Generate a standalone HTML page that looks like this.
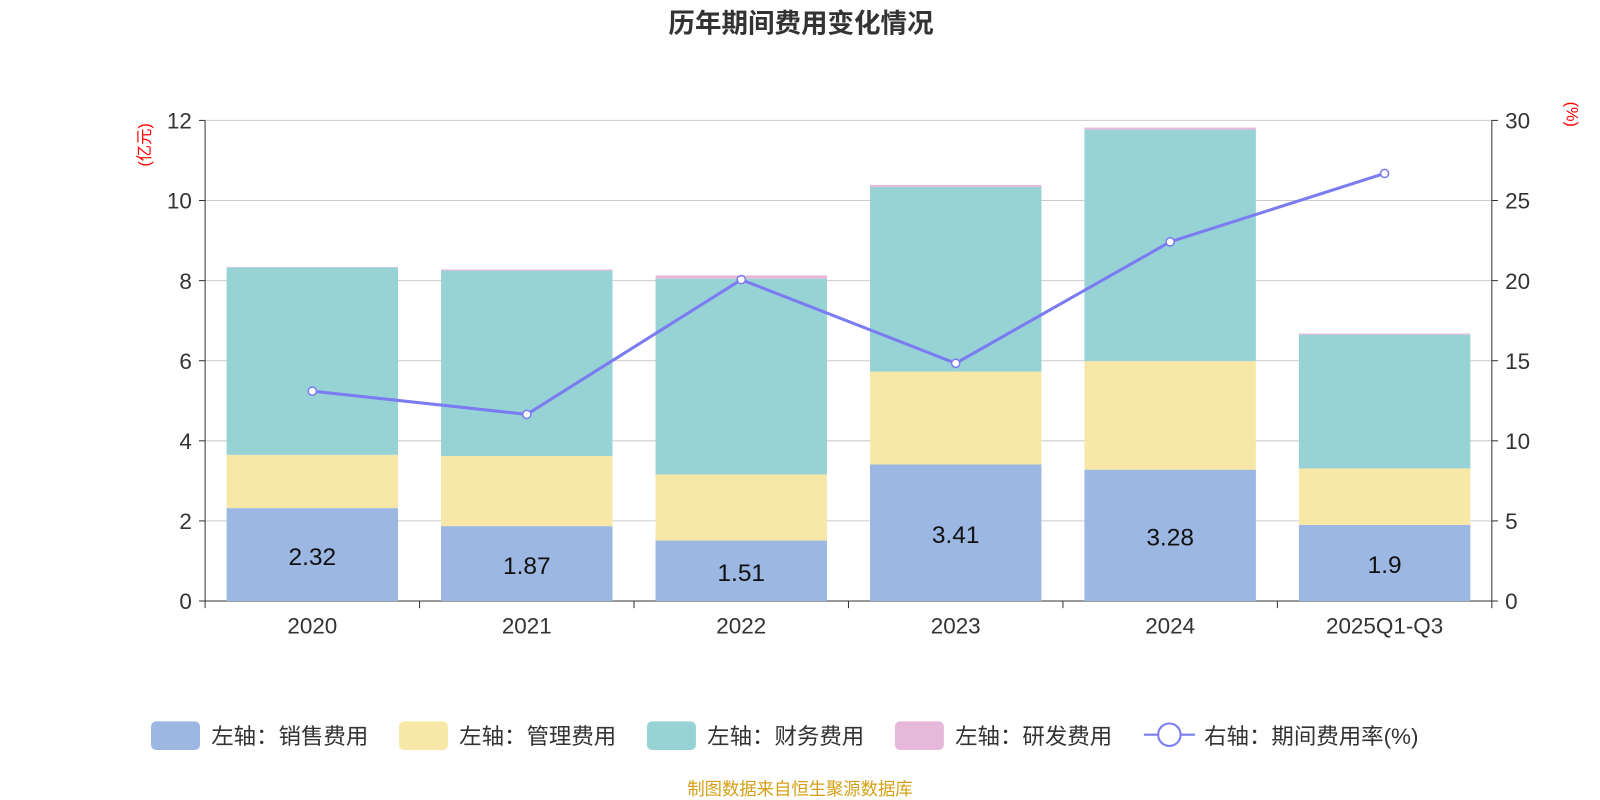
<!DOCTYPE html>
<html><head><meta charset="utf-8">
<style>
body{margin:0;background:#fff;}
svg{display:block;}
svg text{font-family:"Liberation Sans","Noto Sans CJK SC",sans-serif;}
</style></head>
<body>
<svg id="c" width="1600" height="800" viewBox="0 0 1568 784" xmlns="http://www.w3.org/2000/svg">
<text x="785" y="32" text-anchor="middle" font-size="26" font-weight="bold" fill="#333">历年期间费用变化情况</text>
<text transform="translate(147,142) rotate(-90)" text-anchor="middle" font-size="16" fill="#f00">(亿元)</text>
<text transform="translate(1535,112) rotate(90)" text-anchor="middle" font-size="16" fill="#f00">(%)</text>
<g id="grid"></g><g id="bars"></g><g id="axes"></g><g id="line"></g>
<g id="legend" font-size="22" fill="#333">
<rect x="148" y="707" width="48" height="28" rx="5" fill="#9bb7e2"/><text x="207" y="729">左轴：销售费用</text>
<rect x="391" y="707" width="48" height="28" rx="5" fill="#f8e8a8"/><text x="450" y="729">左轴：管理费用</text>
<rect x="634" y="707" width="48" height="28" rx="5" fill="#97d3d5"/><text x="693" y="729">左轴：财务费用</text>
<rect x="877" y="707" width="48" height="28" rx="5" fill="#e6b8da"/><text x="936" y="729">左轴：研发费用</text>
<g><line x1="1121" y1="720" x2="1171" y2="720" stroke="#7b7bf2" stroke-width="2"/><circle cx="1146" cy="720" r="11" fill="#fff" stroke="#7b7bf2" stroke-width="2"/></g><text x="1180" y="729">右轴：期间费用率(%)</text>
</g>
<text x="784" y="779" text-anchor="middle" font-size="17" fill="#d4a017">制图数据来自恒生聚源数据库</text>
</svg>
<script>
const categories=["2020","2021","2022","2023","2024","2025Q1-Q3"];
const sales=[2.32,1.87,1.51,3.41,3.28,1.9];
const admin=[1.33,1.75,1.65,2.32,2.71,1.41];
const finance=[4.68,4.63,4.89,4.61,5.78,3.34];
const rd=[0.01,0.03,0.08,0.05,0.05,0.03];
const rate=[13.1,11.65,20.06,14.84,22.42,26.69];
const leftTicks=[0,2,4,6,8,10,12];
const rightTicks=[0,5,10,15,20,25,30];
const NS="http://www.w3.org/2000/svg";
const X0=201,X1=1462,Y0=589,Y1=118;
const yL=v=>Y0-(v/12)*(Y0-Y1);
const yR=v=>Y0-(v/30)*(Y0-Y1);
const bw=(X1-X0)/categories.length;
const xc=i=>X0+bw*(i+0.5);
function mk(p,t,a){const e=document.createElementNS(NS,t);for(const k in a)e.setAttribute(k,a[k]);document.getElementById(p).appendChild(e);return e;}
leftTicks.forEach((t,i)=>{
 const g=mk('grid','line',{x1:X0,x2:X1,y1:yL(t),y2:yL(t),stroke:t===0?'#333':'#ccc','stroke-width':1});
 
 
 const l=mk('axes','text',{x:188,y:yL(t)+8,'text-anchor':'end','font-size':22,fill:'#333'});l.textContent=t;
 
 
 const r=mk('axes','text',{x:1475,y:yR(rightTicks[i])+8,'font-size':22,fill:'#333'});r.textContent=rightTicks[i];
 
 
 mk('axes','line',{x1:X0-6,x2:X0,y1:yL(t),y2:yL(t),stroke:'#333'});
 mk('axes','line',{x1:X1,x2:X1+6,y1:yR(rightTicks[i]),y2:yR(rightTicks[i]),stroke:'#333'});
});
mk('axes','line',{x1:X0,x2:X0,y1:Y1,y2:Y0,stroke:'#333'});
mk('axes','line',{x1:X1,x2:X1,y1:Y1,y2:Y0,stroke:'#333'});
for(let i=0;i<=categories.length;i++)mk('axes','line',{x1:X0+bw*i,x2:X0+bw*i,y1:Y0,y2:Y0+7,stroke:'#333'});
const series=[[sales,'#9bb7e2','bar-sales'],[admin,'#f8e8a8','bar-admin'],[finance,'#97d3d5','bar-finance'],[rd,'#e6b8da','bar-rd']];
categories.forEach((c,i)=>{
 let base=0;
 series.forEach(([arr,col,nm])=>{
  const v=arr[i];
  const r=mk('bars','rect',{x:xc(i)-84,width:168,y:yL(base+v),height:yL(base)-yL(base+v),fill:col});
  
  
  base+=v;
 });
 const t=mk('bars','text',{x:xc(i),y:(yL(0)+yL(sales[i]))/2+10,'text-anchor':'middle','font-size':24,fill:'#111'});t.textContent=sales[i];
 
 
 const xl=mk('axes','text',{x:xc(i),y:621,'text-anchor':'middle','font-size':22,fill:'#333'});xl.textContent=c;
 
 
});
const pl=mk('line','polyline',{points:rate.map((v,i)=>xc(i)+','+yR(v)).join(' '),fill:'none',stroke:'#7b7bf2','stroke-width':3});


rate.forEach((v,i)=>{
 const p=mk('line','circle',{cx:xc(i),cy:yR(v),r:4,fill:'#fff',stroke:'#7b7bf2','stroke-width':1.5});
 
 
});
</script>
</body></html>
